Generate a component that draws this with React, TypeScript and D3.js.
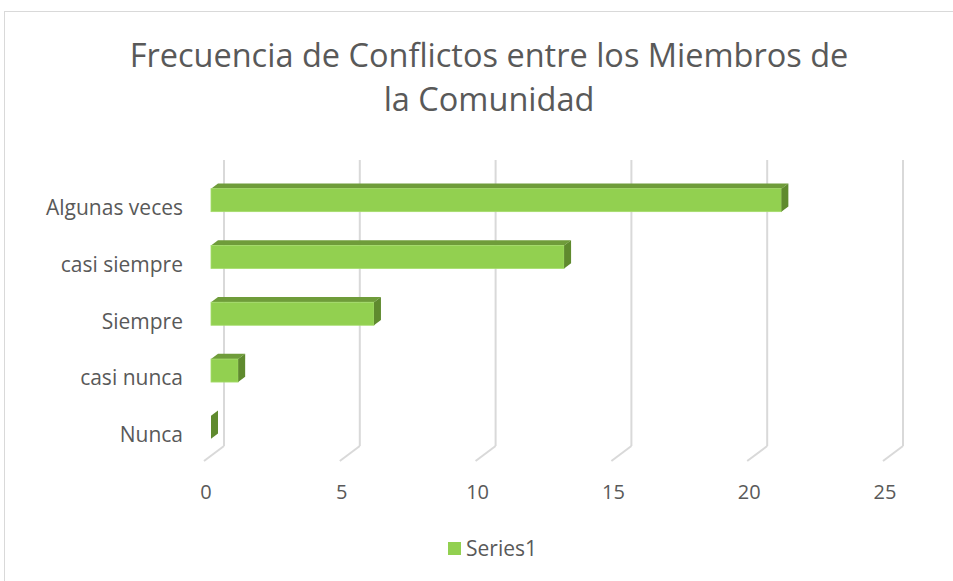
import React from "react";
import * as d3 from "d3";

const categories = ["Nunca", "casi nunca", "Siempre", "casi siempre", "Algunas veces"];
const values = [0, 1, 6, 13, 21];
const xTicks = [0, 5, 10, 15, 20, 25];
const titleLines = ["Frecuencia de Conflictos entre los Miembros de", "la Comunidad"];
const seriesName = "Series1";

const W = 953;
const H = 581;
const FONT = "'Open Sans', sans-serif";
const TXT = "#595959";

export default function App() {
  // front plane scales
  const x = d3.scaleLinear().domain([0, 25]).range([204, 883]);
  const y = d3
    .scaleBand<string>()
    .domain([...categories].reverse())
    .range([177, 461])
    .paddingInner(0.595)
    .paddingOuter(0.2975);
  const depthDX = 20;
  const depthDY = -15;
  const d0 = 0.35;
  const d1 = 0.7;
  const floorY = 461;
  const backTop = 160;

  const off = (d: number) => [depthDX * d, depthDY * d];

  return (
    <svg
      width={W}
      height={H}
      style={{ position: "absolute", left: 0, top: 0, background: "#fff" }}
      fontFamily={FONT}
    >
      <rect x={4.5} y={11.5} width={960} height={600} fill="#fff" stroke="#d9d9d9" strokeWidth={1} />
      {titleLines.map((t, i) => (
        <text key={i} x={489} y={67 + i * 44} textAnchor="middle" fontSize={32.5} fill={TXT}>
          {t}
        </text>
      ))}
      {/* gridlines */}
      {xTicks.map((t) => {
        const xf = x(t);
        const xb = xf + depthDX;
        const yb = floorY + depthDY;
        return (
          <g key={t}>
            <line x1={xb} x2={xb} y1={backTop} y2={yb} stroke="#d9d9d9" strokeWidth={2} />
            <line x1={xb} y1={yb} x2={xf} y2={floorY} stroke="#d9d9d9" strokeWidth={2} />
            <text x={xf + 2} y={499} textAnchor="middle" fontSize={20} fill={TXT}>
              {t}
            </text>
          </g>
        );
      })}
      {/* bars */}
      {categories.map((c, i) => {
        const v = values[i];
        const [ox0, oy0] = off(d0);
        const [ox1, oy1] = off(d1);
        const yTop = (y(c) as number) + oy0;
        const yBot = yTop + y.bandwidth();
        const xl = x(0) + ox0;
        const xr = x(v) + ox0;
        const dx = ox1 - ox0;
        const dy = oy1 - oy0;
        return (
          <g key={c}>
            {v > 0 && (
              <>
                <polygon
                  points={`${xl},${yTop} ${xr},${yTop} ${xr + dx},${yTop + dy} ${xl + dx},${yTop + dy}`}
                  fill="#6f9c3a"
                />
                <rect x={xl} y={yTop} width={xr - xl} height={yBot - yTop} fill="#92d050" stroke="#a5dc6a" strokeWidth={0.8} />
              </>
            )}
            <polygon
              points={`${xr},${yTop} ${xr + dx},${yTop + dy} ${xr + dx},${yBot + dy} ${xr},${yBot}`}
              fill="#5f8a2e"
            />
            <text
              x={183}
              y={(y(c) as number) + y.bandwidth() / 2 + 4}
              textAnchor="end"
              dominantBaseline="middle"
              fontSize={21}
              fill={TXT}
            >
              {c}
            </text>
          </g>
        );
      })}
      {/* legend */}
      <rect x={448} y={542} width={13} height={13} fill="#92d050" />
      <text x={466} y={556} fontSize={21} fill={TXT}>
        {seriesName}
      </text>
    </svg>
  );
}
